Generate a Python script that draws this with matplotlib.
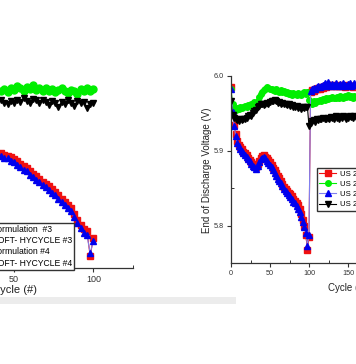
import matplotlib
matplotlib.use("Agg")
import matplotlib.pyplot as plt
from matplotlib.patches import Rectangle
from matplotlib.ticker import MultipleLocator, FormatStrFormatter
import numpy as np

plt.rcParams['font.family'] = ['Liberation Sans', 'DejaVu Sans']

# ---- left panel (cycles 42..100, step 2) ----
cyc_left = np.arange(42, 101, 2)
red_left = [5.904, 5.902, 5.901, 5.899, 5.896, 5.893, 5.890, 5.887, 5.884, 5.880,
            5.876, 5.873, 5.870, 5.866, 5.863, 5.860, 5.856, 5.852, 5.848, 5.843,
            5.839, 5.835, 5.830, 5.822, 5.814, 5.808, 5.803, 5.799, 5.766, 5.790]
green_left = [5.988, 5.990, 5.986, 5.992, 5.989, 5.994, 5.991, 5.987, 5.993, 5.990,
              5.995, 5.989, 5.992, 5.988, 5.991, 5.987, 5.990, 5.986, 5.989, 5.992,
              5.988, 5.985, 5.989, 5.987, 5.984, 5.990, 5.987, 5.991, 5.988, 5.990]
blue_left = [5.901, 5.898, 5.897, 5.894, 5.892, 5.888, 5.886, 5.882, 5.880, 5.875,
             5.872, 5.868, 5.866, 5.861, 5.859, 5.855, 5.851, 5.848, 5.843, 5.839,
             5.835, 5.830, 5.826, 5.818, 5.811, 5.804, 5.797, 5.794, 5.770, 5.786]
black_left = [5.975, 5.972, 5.970, 5.974, 5.971, 5.976, 5.973, 5.978, 5.974, 5.972,
              5.977, 5.975, 5.971, 5.976, 5.973, 5.969, 5.974, 5.971, 5.966, 5.973,
              5.970, 5.975, 5.972, 5.968, 5.974, 5.971, 5.973, 5.965, 5.970, 5.972]
lab_left = ["Formulation  #3", "SOFT- HYCYCLE #3", "Formulation #4", "SOFT- HYCYCLE #4"]

# ---- right panel (cycles 0..160, step 2) ----
cyc_right = np.arange(0, 161, 2)
red_right = [5.985, 5.950, 5.935, 5.922, 5.913, 5.908, 5.905, 5.902, 5.899, 5.897, 5.894,
             5.891, 5.888, 5.885, 5.882, 5.880, 5.879, 5.883, 5.887, 5.891, 5.893,
             5.894, 5.892, 5.890, 5.888, 5.885, 5.881, 5.877, 5.874, 5.870, 5.866,
             5.863, 5.860, 5.856, 5.852, 5.849, 5.846, 5.844, 5.842, 5.839, 5.836,
             5.833, 5.830, 5.827, 5.822, 5.816, 5.808, 5.800, 5.788, 5.768, 5.785,
             5.979, 5.981, 5.980, 5.983, 5.982, 5.984, 5.983, 5.985, 5.984, 5.986,
             5.985, 5.987, 5.988, 5.986, 5.988, 5.987, 5.986, 5.988, 5.987, 5.986,
             5.988, 5.987, 5.985, 5.986, 5.988, 5.987, 5.986, 5.985, 5.987, 5.986]
green_right = [5.983, 5.962, 5.956, 5.955, 5.957, 5.956, 5.958, 5.957, 5.959, 5.960, 5.958,
               5.961, 5.960, 5.962, 5.963, 5.965, 5.964, 5.967, 5.972, 5.976, 5.978,
               5.981, 5.983, 5.985, 5.984, 5.982, 5.983, 5.981, 5.980, 5.982, 5.980,
               5.979, 5.981, 5.978, 5.980, 5.977, 5.978, 5.976, 5.977, 5.975, 5.977,
               5.976, 5.975, 5.977, 5.976, 5.974, 5.977, 5.978, 5.976, 5.979, 5.968,
               5.965, 5.963, 5.966, 5.964, 5.967, 5.966, 5.968, 5.967, 5.969, 5.968,
               5.970, 5.969, 5.971, 5.970, 5.972, 5.971, 5.970, 5.972, 5.971, 5.973,
               5.972, 5.971, 5.973, 5.972, 5.974, 5.972, 5.973, 5.971, 5.973, 5.972]
blue_right = [5.982, 5.952, 5.933, 5.920, 5.910, 5.906, 5.903, 5.900, 5.897, 5.894, 5.892,
              5.889, 5.886, 5.883, 5.880, 5.878, 5.876, 5.880, 5.885, 5.889, 5.891,
              5.892, 5.890, 5.887, 5.884, 5.881, 5.878, 5.874, 5.870, 5.866, 5.862,
              5.860, 5.857, 5.853, 5.849, 5.846, 5.843, 5.841, 5.838, 5.835, 5.832,
              5.830, 5.826, 5.822, 5.818, 5.812, 5.805, 5.798, 5.790, 5.773, 5.788,
              5.980, 5.982, 5.984, 5.983, 5.985, 5.987, 5.985, 5.986, 5.988, 5.990,
              5.987, 5.992, 5.989, 5.987, 5.989, 5.988, 5.990, 5.987, 5.988, 5.989,
              5.987, 5.990, 5.988, 5.986, 5.989, 5.991, 5.987, 5.988, 5.990, 5.988]
black_right = [5.966, 5.948, 5.944, 5.942, 5.941, 5.940, 5.942, 5.941, 5.943, 5.942, 5.944,
               5.946, 5.948, 5.947, 5.950, 5.953, 5.955, 5.958, 5.960, 5.962, 5.963,
               5.961, 5.963, 5.964, 5.962, 5.965, 5.967, 5.966, 5.968, 5.966, 5.964,
               5.965, 5.963, 5.964, 5.962, 5.963, 5.961, 5.962, 5.960, 5.961, 5.959,
               5.958, 5.960, 5.957, 5.958, 5.956, 5.958, 5.957, 5.959, 5.958, 5.933,
               5.937, 5.940, 5.941, 5.939, 5.942, 5.941, 5.943, 5.942, 5.944, 5.943,
               5.942, 5.944, 5.943, 5.945, 5.944, 5.943, 5.946, 5.944, 5.943, 5.945,
               5.944, 5.946, 5.945, 5.943, 5.944, 5.946, 5.945, 5.944, 5.946, 5.945]
lab_right = ["US 2 Formulation #3", "US 2 SOFT- HYCYCLE #3",
             "US 2 Formulation #4", "US 2 SOFT- HYCYCLE #4"]

W, H = 356, 364
fig = plt.figure(figsize=(W / 100, H / 100), dpi=100)

def px_rect(x0, y_top, x1, y_bot):
    return [x0 / W, 1 - y_bot / H, (x1 - x0) / W, (y_bot - y_top) / H]

styles = [("s", "#f01010", "#f01010"), ("o", "#00ee00", "#00ee00"),
          ("^", "#0000ee", "#8080f0"), ("v", "black", "black")]

def style_axes(ax, fs):
    for s in ["top", "right"]:
        ax.spines[s].set_visible(False)
    for s in ["left", "bottom"]:
        ax.spines[s].set_color("#333333")
        ax.spines[s].set_linewidth(0.9)
    ax.xaxis.set_major_locator(MultipleLocator(50))
    ax.xaxis.set_minor_locator(MultipleLocator(25))
    ax.tick_params(which="major", direction="out", length=3, width=0.8,
                   labelsize=fs, colors="#333333", pad=2)
    ax.tick_params(which="minor", direction="in", length=2, width=0.7, colors="#333333")

# left panel
axl = fig.add_axes(px_rect(-105, 44.5, 133, 268))
for y, (m, c, lc), lab in zip([red_left, green_left, blue_left, black_left], styles, lab_left):
    axl.plot(cyc_left, y, marker=m, color=lc, mfc=c, mec=c, ms=5.0, lw=0.8, label=lab)
axl.set_xlim(-25, 125)
axl.set_ylim(5.75, 6.05)
style_axes(axl, 6.5)
axl.set_yticks([])
axl.legend(loc="upper right", bbox_to_anchor=(74 / W, 1 - 223 / H),
           bbox_transform=fig.transFigure, fontsize=6.2, frameon=True, fancybox=False,
           edgecolor="#333333", framealpha=1, borderaxespad=0, borderpad=0.25,
           labelspacing=0.25, handlelength=2.0, handletextpad=0.5)
fig.text(14 / W, 1 - 290 / H, "Cycle (#)", ha="center", va="center", fontsize=8, color="#222222")

# right panel
axr = fig.add_axes(px_rect(231, 76, 465, 263))
for y, (m, c, lc), lab in zip([red_right, green_right, blue_right, black_right], styles, lab_right):
    axr.plot(cyc_right, y, marker=m, color=lc, mfc=c, mec=c, ms=4.0, lw=0.8, label=lab)
axr.set_xlim(0, 300)
axr.set_ylim(5.75, 6.0)
style_axes(axr, 5.2)
axr.yaxis.set_major_locator(MultipleLocator(0.1))
axr.yaxis.set_minor_locator(MultipleLocator(0.05))
axr.yaxis.set_major_formatter(FormatStrFormatter("%.1f"))
axr.legend(loc="upper left", bbox_to_anchor=(317 / W, 1 - 168 / H),
           bbox_transform=fig.transFigure, fontsize=5.6, frameon=True, fancybox=False,
           edgecolor="#333333", framealpha=1, borderaxespad=0, borderpad=0.3,
           labelspacing=0.35, handlelength=2.2, handletextpad=0.5)
fig.text(207 / W, 1 - 170 / H, "End of Discharge Voltage (V)", rotation=90,
         ha="center", va="center", fontsize=7, color="#222222")
fig.text(328 / W, 1 - 288 / H, "Cycle (#)", ha="left", va="center", fontsize=7, color="#222222")

# light gray strip under the left figure
fig.patches.append(Rectangle((0, 1 - 304 / H), 236 / W, 7 / H, transform=fig.transFigure,
                             facecolor="#ececec", edgecolor="none", zorder=0))

fig.savefig("out.png", dpi=100)
